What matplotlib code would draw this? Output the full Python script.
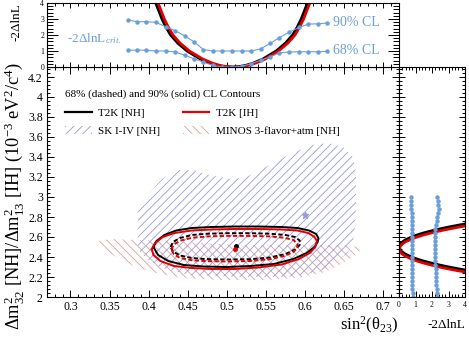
import numpy as np
import matplotlib
matplotlib.use("Agg")
import matplotlib.pyplot as plt
from matplotlib.lines import Line2D
from matplotlib.patches import Patch
from matplotlib.ticker import MultipleLocator

plt.rcParams['font.family'] = 'Liberation Serif'
plt.rcParams['mathtext.fontset'] = 'custom'
plt.rcParams['mathtext.rm'] = 'Liberation Serif'
plt.rcParams['mathtext.it'] = 'Liberation Serif:italic'
plt.rcParams['hatch.linewidth'] = 0.6

BLUE = '#6a9fd8'
SK_COL = '#9a9ad8'
MINOS_COL = '#dca0a0'

# --- main panel: SK I-IV 90% region
sk_x = [0.386, 0.386, 0.400, 0.417, 0.435, 0.457, 0.478, 0.504, 0.522, 0.543, 0.565, 0.587,
        0.609, 0.630, 0.648, 0.661, 0.665, 0.665, 0.664, 0.661, 0.654, 0.639, 0.617, 0.578,
        0.513, 0.452, 0.417, 0.396, 0.387]
sk_y = [2.54, 2.86, 3.03, 3.18, 3.27, 3.27, 3.22, 3.18, 3.19, 3.27, 3.37, 3.45,
        3.52, 3.54, 3.50, 3.40, 3.25, 2.91, 2.71, 2.54, 2.44, 2.34, 2.25, 2.20,
        2.20, 2.22, 2.29, 2.39, 2.47]
sk_best = (0.600, 2.815)

# --- main panel: MINOS 3-flavor+atm region
minos_x = [0.335, 0.352, 0.383, 0.426, 0.470, 0.513, 0.557, 0.600, 0.635, 0.661, 0.673,
           0.665, 0.648, 0.626, 0.591, 0.548, 0.491, 0.443, 0.409, 0.383, 0.361, 0.343, 0.336]
minos_y = [2.56, 2.58, 2.57, 2.56, 2.54, 2.52, 2.52, 2.52, 2.52, 2.51, 2.49,
           2.42, 2.34, 2.25, 2.19, 2.17, 2.17, 2.19, 2.24, 2.30, 2.39, 2.47, 2.52]

# --- main panel: T2K contours
nh90_x = [0.406, 0.410, 0.420, 0.435, 0.455, 0.480, 0.510, 0.540, 0.570, 0.590, 0.605, 0.614,
          0.617, 0.616, 0.612, 0.602, 0.585, 0.560, 0.530, 0.500, 0.470, 0.445, 0.425, 0.412, 0.406]
nh90_y = [2.50, 2.56, 2.62, 2.665, 2.69, 2.70, 2.705, 2.705, 2.70, 2.69, 2.665, 2.63,
          2.59, 2.55, 2.50, 2.44, 2.38, 2.33, 2.31, 2.30, 2.305, 2.32, 2.36, 2.42, 2.50]
ih90_x = [0.404, 0.408, 0.418, 0.433, 0.455, 0.480, 0.510, 0.540, 0.570, 0.590, 0.604, 0.612,
          0.615, 0.613, 0.606, 0.592, 0.570, 0.540, 0.510, 0.480, 0.455, 0.432, 0.415, 0.406, 0.404]
ih90_y = [2.48, 2.54, 2.60, 2.64, 2.665, 2.675, 2.68, 2.68, 2.675, 2.665, 2.64, 2.60,
          2.56, 2.50, 2.44, 2.38, 2.325, 2.295, 2.28, 2.28, 2.29, 2.31, 2.36, 2.42, 2.48]
nh68_x = [0.428, 0.431, 0.440, 0.455, 0.475, 0.500, 0.530, 0.555, 0.575, 0.587, 0.593, 0.593,
          0.587, 0.575, 0.555, 0.530, 0.500, 0.475, 0.455, 0.440, 0.431, 0.428]
nh68_y = [2.50, 2.55, 2.59, 2.62, 2.633, 2.638, 2.638, 2.633, 2.62, 2.60, 2.565, 2.52,
          2.475, 2.43, 2.395, 2.378, 2.375, 2.378, 2.39, 2.415, 2.455, 2.50]
ih68_x = [0.429, 0.432, 0.441, 0.456, 0.476, 0.500, 0.530, 0.555, 0.573, 0.585, 0.590, 0.590,
          0.585, 0.573, 0.555, 0.530, 0.500, 0.475, 0.455, 0.440, 0.432, 0.429]
ih68_y = [2.475, 2.525, 2.565, 2.593, 2.606, 2.611, 2.611, 2.606, 2.593, 2.57, 2.535, 2.49,
          2.45, 2.41, 2.378, 2.36, 2.355, 2.358, 2.368, 2.39, 2.43, 2.475]
nh_best = (0.512, 2.51)
ih_best = (0.510, 2.475)

# --- top panel: -2dlnL vs sin^2(theta23)
top_nh_x = [0.404, 0.409, 0.413, 0.417, 0.422, 0.428, 0.437, 0.449, 0.466, 0.478, 0.488, 0.497,
            0.506, 0.515, 0.524, 0.534, 0.546, 0.563, 0.575, 0.584, 0.590, 0.595, 0.599, 0.603, 0.606]
top_nh_y = [4.5, 4.0, 3.5, 3.0, 2.5, 2.0, 1.5, 1.0, 0.5, 0.25, 0.1, 0.02,
            0.0, 0.02, 0.1, 0.25, 0.5, 1.0, 1.5, 2.0, 2.5, 3.0, 3.5, 4.0, 4.5]
top_ih_x = [0.407, 0.412, 0.416, 0.420, 0.425, 0.431, 0.440, 0.452, 0.469, 0.481, 0.491, 0.500,
            0.509, 0.518, 0.527, 0.537, 0.549, 0.566, 0.578, 0.587, 0.593, 0.598, 0.602, 0.606, 0.609]
top_ih_y = top_nh_y
crit_th = [0.373, 0.385, 0.397, 0.409, 0.422, 0.434, 0.446, 0.458, 0.470, 0.482, 0.494,
           0.507, 0.519, 0.531, 0.543, 0.555, 0.567, 0.579, 0.592, 0.604, 0.616, 0.628]
crit90_th = [2.95, 2.83, 2.83, 2.79, 2.52, 2.26, 1.95, 1.57, 1.09, 1.0, 1.0,
             1.0, 1.0, 1.0, 1.13, 1.47, 1.83, 2.16, 2.47, 2.68, 2.70, 2.75]
crit68_th = [1.05, 1.05, 1.05, 1.0, 1.0, 0.94, 0.73, 0.52, 0.31, 0.1, 0.0,
             0.0, 0.04, 0.21, 0.42, 0.63, 0.88, 0.94, 0.95, 0.95, 0.95, 0.98]

# --- right panel: -2dlnL vs dm2
rp_nh_dm = [2.24, 2.26, 2.28, 2.30, 2.32, 2.34, 2.36, 2.38, 2.40, 2.43, 2.46, 2.50,
            2.54, 2.57, 2.60, 2.62, 2.64, 2.66, 2.68, 2.70, 2.72, 2.74, 2.76]
rp_nh_chi = [5.11, 4.36, 3.66, 3.02, 2.45, 1.94, 1.48, 1.09, 0.76, 0.37, 0.12, 0.0,
             0.12, 0.37, 0.76, 1.09, 1.48, 1.94, 2.45, 3.02, 3.66, 4.36, 5.11]
rp_ih_dm = [2.22, 2.24, 2.26, 2.28, 2.30, 2.32, 2.34, 2.36, 2.38, 2.41, 2.44, 2.48,
            2.52, 2.55, 2.58, 2.60, 2.62, 2.64, 2.66, 2.68, 2.70, 2.72, 2.74]
rp_ih_chi = rp_nh_chi
crit_dm = [2.00, 2.04, 2.08, 2.12, 2.16, 2.20, 2.24, 2.28, 2.32, 2.36, 2.40, 2.44, 2.48,
           2.52, 2.56, 2.60, 2.64, 2.68, 2.72, 2.76, 2.80, 2.84, 2.88, 2.92, 2.96, 3.00]
crit68_dm = [0.82, 0.82, 0.81, 0.81, 0.80, 0.80, 0.79, 0.79, 0.78, 0.78, 0.78, 0.77, 0.77,
             0.77, 0.77, 0.77, 0.77, 0.77, 0.76, 0.76, 0.76, 0.76, 0.75, 0.75, 0.75, 0.74]
crit90_dm = [2.30, 2.29, 2.28, 2.27, 2.26, 2.25, 2.24, 2.22, 2.21, 2.19, 2.18, 2.17, 2.16,
             2.16, 2.16, 2.17, 2.19, 2.21, 2.24, 2.28, 2.33, 2.37, 2.40, 2.39, 2.36, 2.33]

W, H = 469, 341
fig = plt.figure(figsize=(W / 100, H / 100), dpi=100)
L, R, B, T, TT, RR = 47, 399, 297, 67, 3, 465
ax = fig.add_axes([L / W, (H - B) / H, (R - L) / W, (B - T) / H])
axt = fig.add_axes([L / W, (H - T) / H, (R - L) / W, (T - TT) / H])
axr = fig.add_axes([R / W, (H - B) / H, (RR - R) / W, (B - T) / H])


def root_ticks(a, maj=5, mnr=2.5):
    a.tick_params(which='both', direction='in', top=True, right=True, width=0.7)
    a.tick_params(which='major', length=maj)
    a.tick_params(which='minor', length=mnr)
    for s in a.spines.values():
        s.set_linewidth(0.8)


# main panel
ax.fill(minos_x, minos_y, facecolor='none', edgecolor=MINOS_COL, hatch='\\\\\\\\', lw=0)
ax.fill(sk_x, sk_y, facecolor='none', edgecolor=SK_COL, hatch='////', lw=0)
ax.plot(*sk_best, marker='*', color=SK_COL, ms=5, ls='none')
ax.plot(nh90_x, nh90_y, color='black', lw=1.4)
ax.plot(ih90_x, ih90_y, color='#e00000', lw=1.4)
ax.plot(nh68_x, nh68_y, color='black', lw=1.4, ls=(0, (2.2, 1.2)))
ax.plot(ih68_x, ih68_y, color='#e00000', lw=1.4, ls=(0, (2.2, 1.2)))
ax.plot(*nh_best, 'o', color='black', ms=2.5)
ax.plot(*ih_best, 'o', color='#e00000', ms=2.5)
ax.set_xlim(0.27, 0.72)
ax.set_ylim(2.0, 4.3)
ax.xaxis.set_major_locator(MultipleLocator(0.05))
ax.xaxis.set_minor_locator(MultipleLocator(0.01))
ax.yaxis.set_major_locator(MultipleLocator(0.2))
ax.yaxis.set_minor_locator(MultipleLocator(0.04))
ax.set_xticks([0.3, 0.35, 0.4, 0.45, 0.5, 0.55, 0.6, 0.65, 0.7])
ax.set_xticklabels(['0.3', '0.35', '0.4', '0.45', '0.5', '0.55', '0.6', '0.65', '0.7'])
ax.set_yticks([2.0, 2.2, 2.4, 2.6, 2.8, 3.0, 3.2, 3.4, 3.6, 3.8, 4.0, 4.2])
ax.set_yticklabels(['2', '2.2', '2.4', '2.6', '2.8', '3', '3.2', '3.4', '3.6', '3.8', '4', '4.2'])
root_ticks(ax)
ax.tick_params(labelsize=8.5, pad=3)

handles = [Line2D([], [], color='black', lw=1.6),
           Patch(facecolor='none', edgecolor=SK_COL, hatch='////', lw=0),
           Line2D([], [], color='#e00000', lw=1.6),
           Patch(facecolor='none', edgecolor=MINOS_COL, hatch='\\\\\\\\', lw=0)]
labels = ['T2K [NH]', 'SK I-IV [NH]', 'T2K [IH]', 'MINOS 3-flavor+atm [NH]']
ax.legend(handles, labels, ncol=2, loc='upper left', bbox_to_anchor=(0.035, 0.925),
          frameon=False, fontsize=8, title='68% (dashed) and 90% (solid) CL Contours',
          title_fontsize=8, alignment='left', handlelength=2.4, handletextpad=0.6,
          columnspacing=2.0, labelspacing=0.75, borderpad=0)

fig.text(14 / W, 1 - 62 / H,
         'Δm$^{2}_{32}$ [NH]/Δm$^{2}_{13}$ [IH] (10$^{-3}$ eV$^{2}$/c$^{4}$)',
         rotation=90, ha='center', va='top', fontsize=13.2)
fig.text(398 / W, 1 - 325 / H, 'sin$^{2}$(θ$_{23}$)', ha='right', va='center', fontsize=12)

# top panel
axt.plot(top_nh_x, top_nh_y, color='black', lw=2.0)
axt.plot(top_ih_x, top_ih_y, color='#e00000', lw=2.0)
axt.plot(crit_th, crit90_th, color=BLUE, lw=0.8, marker='o', ms=2.2)
axt.plot(crit_th, crit68_th, color=BLUE, lw=0.8, marker='o', ms=2.2)
axt.set_xlim(0.27, 0.72)
axt.set_ylim(0, 4)
axt.xaxis.set_major_locator(MultipleLocator(0.05))
axt.xaxis.set_minor_locator(MultipleLocator(0.01))
axt.yaxis.set_major_locator(MultipleLocator(1))
axt.yaxis.set_minor_locator(MultipleLocator(0.2))
root_ticks(axt, 8, 4)
axt.tick_params(axis='x', which='major', length=3.5)
axt.tick_params(axis='x', which='minor', length=2)
axt.tick_params(labelbottom=False, labelsize=5.5, pad=2)
axt.text(0.636, 2.75, '90% CL', color=BLUE, fontsize=10, va='center', ha='left')
axt.text(0.636, 1.0, '68% CL', color=BLUE, fontsize=10, va='center', ha='left')
axt.text(0.296, 1.75, '-2ΔlnL$_{crit.}$', color=BLUE, fontsize=9.5, va='center', ha='left')
fig.text(16 / W, 1 - 3 / H, '-2ΔlnL', rotation=90, ha='center', va='top', fontsize=9.5)

# right panel
axr.plot(rp_nh_chi, rp_nh_dm, color='black', lw=2.0)
axr.plot(rp_ih_chi, rp_ih_dm, color='#e00000', lw=2.0)
axr.plot(crit68_dm, crit_dm, color=BLUE, lw=0.8, marker='o', ms=2.2)
axr.plot(crit90_dm, crit_dm, color=BLUE, lw=0.8, marker='o', ms=2.2)
axr.set_xlim(0, 4)
axr.set_ylim(2.0, 4.3)
axr.xaxis.set_major_locator(MultipleLocator(1))
axr.xaxis.set_minor_locator(MultipleLocator(0.2))
axr.yaxis.set_major_locator(MultipleLocator(0.2))
axr.yaxis.set_minor_locator(MultipleLocator(0.04))
root_ticks(axr, 4, 2)
axr.tick_params(labelleft=False, labelsize=5.5, pad=3)
fig.text(465 / W, 1 - 325 / H, '-2ΔlnL', ha='right', va='center', fontsize=9.5)

fig.savefig('out.png', dpi=100)
